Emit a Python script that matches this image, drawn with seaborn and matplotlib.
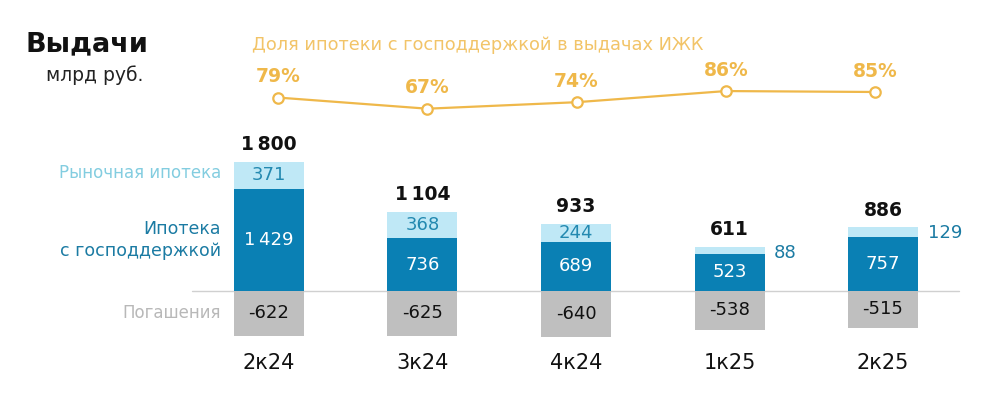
import numpy as np
import matplotlib
matplotlib.use("Agg")
import matplotlib.pyplot as plt
import seaborn as sns

# data
quarters = ["2к24", "3к24", "4к24", "1к25", "2к25"]
gov = [1429, 736, 689, 523, 757]
market = [371, 368, 244, 88, 129]
repay = [-622, -625, -640, -538, -515]
totals = [1800, 1104, 933, 611, 886]
gov_share = [79, 67, 74, 86, 85]

c_market = "#bfe8f6"
c_gov = "#0a80b4"
c_repay = "#bfbfbf"
c_line = "#efb84a"
c_market_txt = "#83cde0"
c_gov_txt = "#1b7ba3"

sns.set_style("white")
plt.rcParams["font.family"] = ["DejaVu Sans"]

W, H = 992, 393
fig = plt.figure(figsize=(W / 100, H / 100), dpi=100)
ax = fig.add_axes([0, 0, 1, 1])

pos = np.arange(len(quarters))
step = 153.5          # px between bar centres
x0 = 269              # px of first bar centre
w = 70 / step
sns.barplot(x=pos, y=gov, color=c_gov, width=w, ax=ax, saturation=1, linewidth=0)
sns.barplot(x=pos, y=market, bottom=gov, color=c_market, width=w, ax=ax, saturation=1, linewidth=0)
sns.barplot(x=pos, y=repay, color=c_repay, width=w, ax=ax, saturation=1, linewidth=0)

# zero at y=291 px, 0.0717 px per unit
ax.set_xlim(-x0 / step, (W - x0) / step)
upp = 1 / 0.0717
ax.set_ylim(-(H - 291) * upp, 291 * upp)
ax.axis("off")

ax.plot([(192 - x0) / step, (959 - x0) / step], [0, 0], color="#d0d0d0", lw=1, zorder=0)

fmt = lambda v: f"{v:,}".replace(",", "\u2009")

for i in pos:
    ax.annotate(fmt(totals[i]), (i, gov[i] + market[i]), xytext=(0, 12.5), textcoords="offset points",
                ha="center", va="center", fontsize=13.5, fontweight="bold", color="#111111")
    ax.text(i, gov[i] / 2, fmt(gov[i]), ha="center", va="center", fontsize=13, color="white")
    ax.text(i, repay[i] / 2, fmt(repay[i]), ha="center", va="center", fontsize=13, color="#111111")
    if market[i] > 150:
        ax.text(i, gov[i] + market[i] / 2, fmt(market[i]), ha="center", va="center",
                fontsize=13, color="#2389b0")
    else:
        ax.annotate(fmt(market[i]), (i + w / 2, gov[i] + market[i]), xytext=(7, -4),
                    textcoords="offset points", ha="left", va="center", fontsize=13, color=c_gov_txt)
    ax.text(i, -(363 - 291) * upp, quarters[i], ha="center", va="center", fontsize=15, color="#111111")

# share line on its own, independent axes (points at 278 + 149.3*i px)
ax2 = fig.add_axes([0, 0, 1, 1], label="share")
ax2.patch.set_alpha(0)
lstep, lx0 = 149.3, 278
k, vm, ym = 0.928, 78.2, 98.3
sns.lineplot(x=pos, y=gov_share, ax=ax2, color=c_line, lw=1.6, marker="o", markersize=7.5,
             markerfacecolor="white", markeredgecolor=c_line, markeredgewidth=1.6)
ax2.set_ylim(vm - (H - ym) / k, vm + ym / k)
ax2.set_xlim(-lx0 / lstep, (W - lx0) / lstep)
ax2.axis("off")
for i in pos:
    ax2.annotate(f"{gov_share[i]}%", (i, gov_share[i]), xytext=(0, 15), textcoords="offset points",
                 ha="center", va="center", fontsize=13.5, fontweight="bold", color=c_line)

fig.text(26 / W, 1 - 44 / H, "Выдачи", fontsize=19.5, fontweight="bold", color="#111111", va="center")
fig.text(143 / W, 1 - 75 / H, "млрд руб.", fontsize=13.5, color="#222222", va="center", ha="right")
fig.text(252 / W, 1 - 45 / H, "Доля ипотеки с господдержкой в выдачах ИЖК", fontsize=12.8,
         color="#f2c468", va="center")
fig.text(221 / W, 1 - 173 / H, "Рыночная ипотека", fontsize=12, color=c_market_txt, ha="right", va="center")
fig.text(221 / W, 1 - 240 / H, "Ипотека\nс господдержкой", fontsize=12.5, color=c_gov_txt,
         ha="right", va="center", linespacing=1.3, multialignment="right")
fig.text(221 / W, 1 - 313 / H, "Погашения", fontsize=12, color="#b8b8b8", ha="right", va="center")

fig.savefig("out.png", dpi=100)
